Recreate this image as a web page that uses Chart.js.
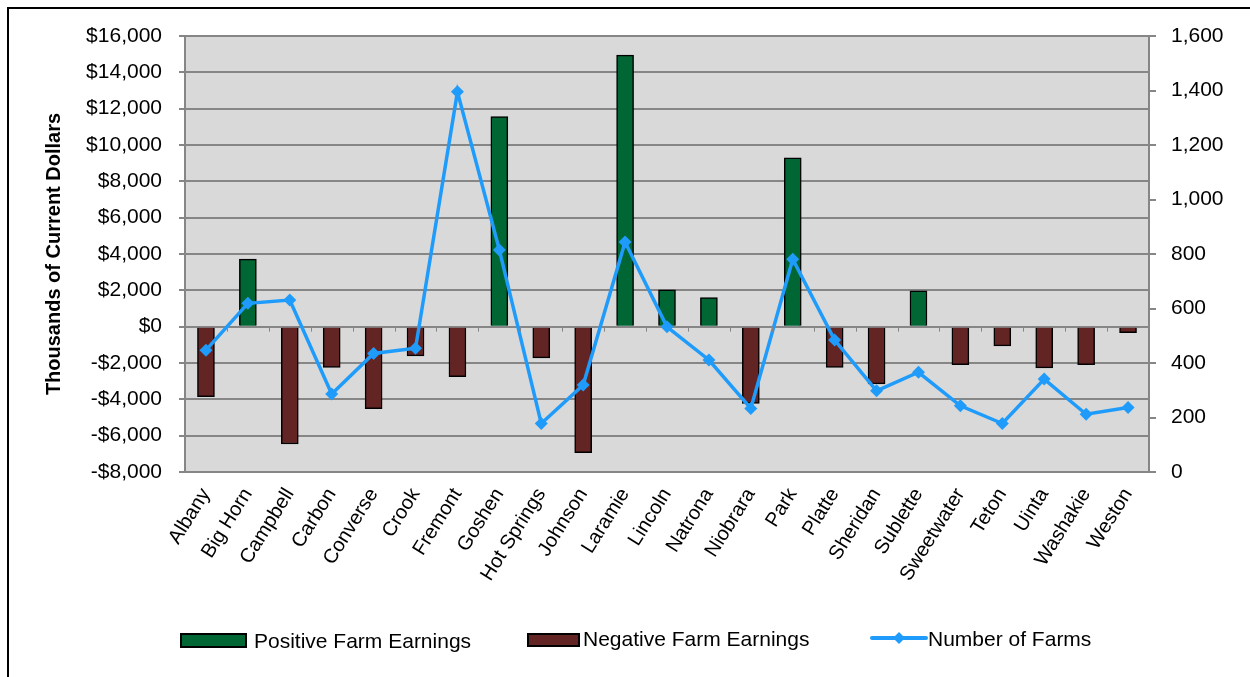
<!DOCTYPE html>
<html>
<head>
<meta charset="utf-8">
<script src="https://cdn.jsdelivr.net/npm/chart.js@4.4.0/dist/chart.umd.min.js"></script>
<style>
  html, body { margin: 0; padding: 0; background: #fff; overflow: hidden; }
  #wrap { position: relative; width: 1250px; height: 677px; }
  #frame { position: absolute; left: 7px; top: 7px; width: 1300px; height: 700px;
           border-left: 2px solid #000; border-top: 2px solid #000; }
  canvas { position: absolute; left: 0; top: 0; }
  .leg { position: absolute; font-family: "Liberation Sans", Arial, sans-serif;
         font-size: 21px; color: #000; line-height: 24px; white-space: nowrap; }
  .box { position: absolute; box-sizing: border-box; border: 2px solid #000; }
</style>
</head>
<body>
<div id="wrap">
  <div id="frame"></div>
  <canvas id="c" width="1250" height="677"></canvas>
  <div class="box" style="left:180px;top:633px;width:67px;height:15px;background:#006633"></div>
  <div class="leg" style="left:254px;top:629px">Positive Farm Earnings</div>
  <div class="box" style="left:527px;top:633px;width:53px;height:14px;background:#632523"></div>
  <div class="leg" style="left:583px;top:627px">Negative Farm Earnings</div>
  <svg width="60" height="20" style="position:absolute;left:870px;top:628px">
    <line x1="2" y1="10" x2="56" y2="10" stroke="#1f9cfb" stroke-width="4" stroke-linecap="round"/>
    <polygon points="29,4 35,10 29,16 23,10" fill="#1f9cfb"/>
  </svg>
  <div class="leg" style="left:928px;top:627px">Number of Farms</div>
</div>
<script>
const counties = ['Albany', 'Big Horn', 'Campbell', 'Carbon', 'Converse', 'Crook', 'Fremont', 'Goshen',
  'Hot Springs', 'Johnson', 'Laramie', 'Lincoln', 'Natrona', 'Niobrara', 'Park', 'Platte', 'Sheridan',
  'Sublette', 'Sweetwater', 'Teton', 'Uinta', 'Washakie', 'Weston'];

// farm earnings, thousands of current dollars
const positiveEarnings = [null, 3720, null, null, null, null, null, 11570, null, null, 14950, 2030, 1600,
  null, 9290, null, null, 1970, null, null, null, null, null];
const negativeEarnings = [-3850, null, -6460, -2250, -4520, -1610, -2750, null, -1720, -6940, null, null, null,
  -4220, null, -2240, -3150, null, -2090, -1060, -2270, -2090, -330];

const numberOfFarms = [447, 619, 631, 286, 435, 454, 1395, 815, 178, 319, 844, 533, 411, 233, 781, 484, 298,
  366, 243, 178, 341, 212, 237];

const dollarTicks = [-8000, -6000, -4000, -2000, 0, 2000, 4000, 6000, 8000, 10000, 12000, 14000, 16000];
const farmTicks = [0, 200, 400, 600, 800, 1000, 1200, 1400, 1600];

const FONT = '"Liberation Sans", Arial, sans-serif';
const GRID = '#868686';

const plotBg = {
  id: 'plotBg',
  beforeDraw(chart) {
    const a = chart.chartArea, ctx = chart.ctx;
    ctx.save();
    ctx.fillStyle = '#d9d9d9';
    ctx.fillRect(a.left, a.top, a.right - a.left, a.bottom - a.top);
    ctx.restore();
  }
};

// little category tick marks along the $0 line
const zeroTicks = {
  id: 'zeroTicks',
  afterDatasetsDraw(chart) {
    const y0 = chart.scales.y.getPixelForValue(0), ctx = chart.ctx;
    const step = (chart.chartArea.right - chart.chartArea.left) / counties.length;
    ctx.save();
    ctx.strokeStyle = GRID;
    ctx.lineWidth = 1;
    for (let i = 1; i < counties.length; i++) {
      const px = Math.round(chart.chartArea.left + i * step) + 0.5;
      ctx.beginPath();
      ctx.moveTo(px, y0);
      ctx.lineTo(px, y0 + 5);
      ctx.stroke();
    }
    ctx.restore();
  }
};

new Chart(document.getElementById('c'), {
  data: {
    labels: counties,
    datasets: [
      {
        type: 'line',
        label: 'Number of Farms',
        data: numberOfFarms,
        yAxisID: 'y1',
        borderColor: '#1f9cfb',
        backgroundColor: '#1f9cfb',
        borderWidth: 3.5,
        pointStyle: 'rectRot',
        pointRadius: 6.5,
        pointBorderWidth: 0,
        tension: 0,
        order: 0
      },
      {
        type: 'bar',
        label: 'Positive Farm Earnings',
        data: positiveEarnings,
        yAxisID: 'y',
        backgroundColor: '#006633',
        borderColor: '#000',
        borderWidth: 1.5,
        barThickness: 17,
        grouped: false,
        order: 1
      },
      {
        type: 'bar',
        label: 'Negative Farm Earnings',
        data: negativeEarnings,
        yAxisID: 'y',
        backgroundColor: '#632523',
        borderColor: '#000',
        borderWidth: 1.5,
        barThickness: 17,
        grouped: false,
        order: 1
      }
    ]
  },
  options: {
    responsive: false,
    animation: false,
    layout: { padding: { top: 36, left: 0, right: 0, bottom: 0 } },
    plugins: { legend: { display: false }, tooltip: { enabled: false } },
    scales: {
      x: {
        grid: { display: false },
        border: { display: false },
        ticks: {
          autoSkip: false, minRotation: 58, maxRotation: 58, padding: 4,
          color: '#000', font: { family: FONT, size: 20 }
        },
        afterFit(s) { s.height = 677 - 472; }
      },
      y: {
        position: 'left',
        min: -8000, max: 16000,
        afterBuildTicks(s) { s.ticks = dollarTicks.map(v => ({ value: v })); },
        grid: { color: GRID, lineWidth: 2, tickLength: 6, tickColor: GRID },
        border: { color: GRID, width: 2 },
        ticks: {
          padding: 17, color: '#000', font: { family: FONT, size: 21 },
          callback: v => (v < 0 ? '-$' : '$') + Math.abs(v).toLocaleString('en-US')
        },
        title: {
          display: true, text: 'Thousands of Current Dollars', color: '#000',
          font: { family: FONT, size: 20, weight: 'bold' }, padding: { top: 42, bottom: 0 }
        },
        afterFit(s) { s.width = 185; }
      },
      y1: {
        position: 'right',
        min: 0, max: 1600,
        afterBuildTicks(s) { s.ticks = farmTicks.map(v => ({ value: v })); },
        grid: { drawOnChartArea: false, color: GRID, lineWidth: 2, tickLength: 7, tickColor: GRID },
        border: { color: GRID, width: 2 },
        ticks: {
          padding: 15, color: '#000', font: { family: FONT, size: 21 },
          callback: v => v.toLocaleString('en-US')
        },
        afterFit(s) { s.width = 1250 - 1149; }
      }
    }
  },
  plugins: [plotBg, zeroTicks]
});
</script>
</body>
</html>
